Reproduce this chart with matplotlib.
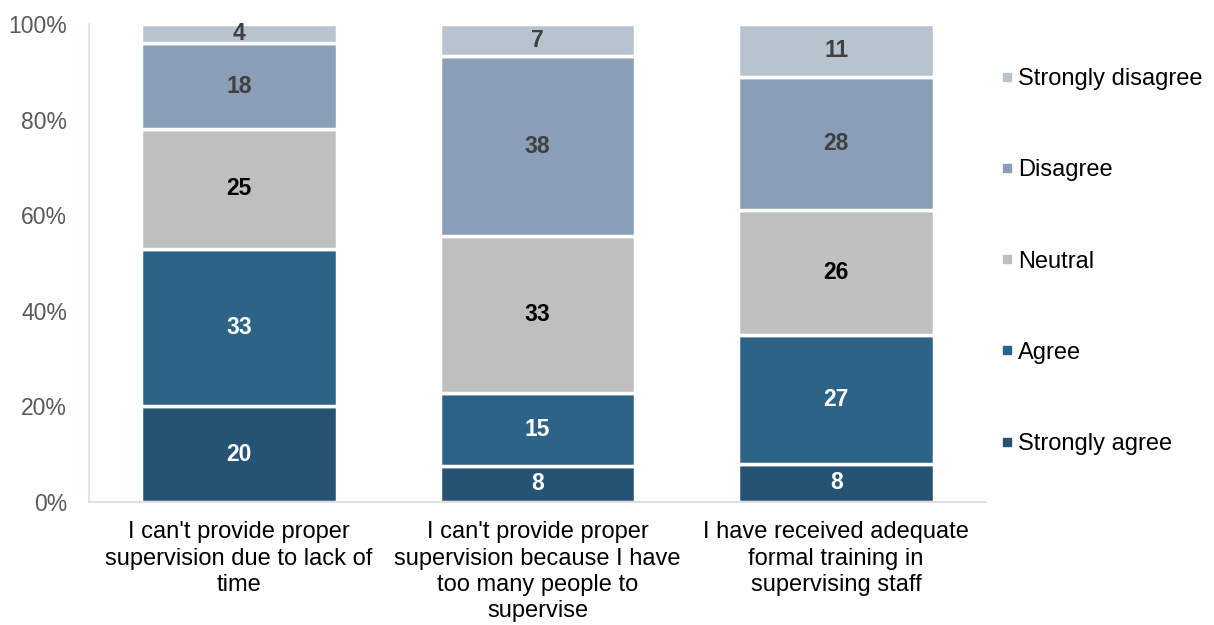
import numpy as np
import matplotlib.pyplot as plt
from matplotlib.lines import Line2D

plt.rcParams['font.family'] = ['Liberation Sans', 'DejaVu Sans']

# Data
categories = ["I can't provide proper\nsupervision due to lack of\ntime",
              "I can't provide proper\nsupervision because I have\ntoo many people to\nsupervise",
              "I have received adequate\nformal training in\nsupervising staff"]
series = ['Strongly agree', 'Agree', 'Neutral', 'Disagree', 'Strongly disagree']
strongly_agree = [20, 7.6, 8]
agree = [33, 15.2, 27]
neutral = [25, 32.8, 26]
disagree = [18, 37.7, 28]
strongly_disagree = [4, 6.7, 11]
values = [strongly_agree, agree, neutral, disagree, strongly_disagree]

colors = ['#265273', '#2e6388', '#bfbfbf', '#8a9fb7', '#b8c3d0']
label_colors = ['white', 'white', 'black', '#404040', '#404040']

fig = plt.figure(figsize=(12.14, 6.25), dpi=100)
ax = fig.add_axes([0.0737, 0.1968, 0.7381, 0.7648])

x = np.arange(len(categories))
bottom = np.zeros(len(categories))
for vals, c, lc in zip(values, colors, label_colors):
    vals = np.array(vals, dtype=float)
    ax.bar(x, vals, bottom=bottom, width=0.656, color=c, edgecolor='white', linewidth=2.5)
    for xi, b, v in zip(x, bottom, vals):
        ax.text(xi, b + v / 2, '%.0f' % v, ha='center', va='center',
                fontsize=16.5, fontweight='bold', color=lc)
    bottom += vals

ax.set_xlim(-0.5, 2.5)
ax.set_ylim(0, 100)
ax.set_yticks(np.arange(0, 101, 20))
ax.set_yticklabels(['%d%%' % v for v in range(0, 101, 20)], fontsize=16.5, color='#595959')
ax.set_xticks(x)
ax.set_xticklabels(categories, fontsize=17, color='black', linespacing=1.25)
ax.tick_params(axis='both', length=0)
ax.tick_params(axis='y', pad=16)
ax.tick_params(axis='x', pad=14)
ax.spines['top'].set_visible(False)
ax.spines['right'].set_visible(False)
ax.spines['left'].set_color('#dce3ea')
ax.spines['bottom'].set_color('#d9d9d9')
ax.spines['left'].set_linewidth(1.2)
ax.spines['bottom'].set_linewidth(1.2)

handles = [Line2D([], [], marker='s', linestyle='none', markersize=6,
                  markerfacecolor=c, markeredgecolor=c) for c in colors]
fig.legend(handles[::-1], series[::-1], loc='center left', bbox_to_anchor=(0.8075, 0.5816),
           frameon=False, fontsize=17, labelspacing=2.93, handlelength=0.5,
           handletextpad=0.2)

plt.savefig('out.png', dpi=100)
